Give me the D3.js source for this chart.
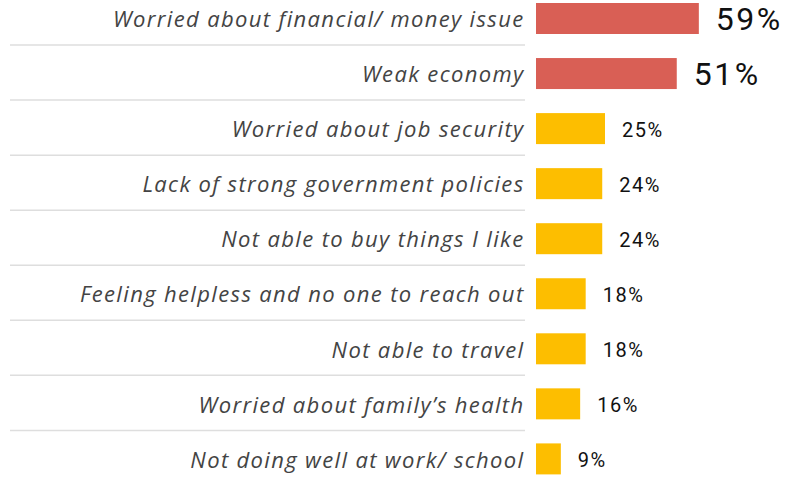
<!DOCTYPE html>
<html><head><meta charset="utf-8">
<script src="https://cdn.jsdelivr.net/npm/d3@7"></script>
<style>body{margin:0;background:#fff}</style>
</head><body>
<svg id="c" width="788" height="477"></svg>
<script>
const categories = ["Worried about financial/ money issue","Weak economy","Worried about job security","Lack of strong government policies","Not able to buy things I like","Feeling helpless and no one to reach out","Not able to travel","Worried about family\u2019s health","Not doing well at work/ school"];
const values = [59,51,25,24,24,18,18,16,9];
const highlight = [true,true,false,false,false,false,false,false,false];

const svg = d3.select("#c");
const x = d3.scaleLinear().domain([0,100]).range([536,536+276]);
const step = 55.05, top0 = 3, bh = 31;
const yc = d3.scaleLinear().domain([0,1]).range([top0, top0+step]);

categories.forEach((c,i)=>{
  if(i>0){
    const ly = yc(i) - 13;
    svg.append("line").attr("x1",10).attr("x2",525).attr("y1",ly).attr("y2",ly)
      .attr("stroke","#dedede").attr("stroke-width",1.5);
  }
});
svg.selectAll("rect.bar").data(values).join("rect").attr("class","bar")
  .attr("x",x(0)).attr("y",(d,i)=>yc(i)).attr("width",d=>x(d)-x(0)).attr("height",bh)
  .attr("fill",(d,i)=>highlight[i]?"#d95f55":"#fdbe00");
svg.selectAll("text.cat").data(categories).join("text").attr("class","cat")
  .attr("x",524.5).attr("y",(d,i)=>yc(i)+bh/2+1).attr("dy","0.35em").attr("text-anchor","end")
  .attr("font-family","'Open Sans', sans-serif").attr("font-style","italic").attr("font-size",22)
  .attr("letter-spacing",1.35)
  .attr("fill","#444").text(d=>d);
svg.selectAll("text.val").data(values).join("text").attr("class","val")
  .attr("x",(d,i)=>x(d)+17).attr("y",(d,i)=>yc(i)+bh/2+(highlight[i]?0:1)).attr("dy","0.36em")
  .attr("font-family","Roboto, sans-serif")
  .attr("font-size",(d,i)=>highlight[i]?32:20)
  .attr("letter-spacing",(d,i)=>highlight[i]?2.5:1.5)
  .attr("fill","#111").text(d=>d+"%");
</script>
</body></html>
